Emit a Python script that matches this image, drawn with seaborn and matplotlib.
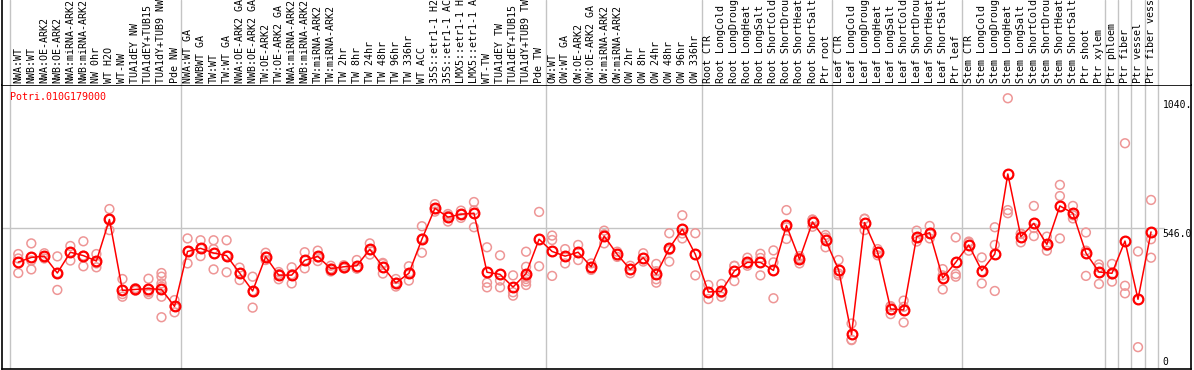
import matplotlib
matplotlib.use("Agg")
import matplotlib.pyplot as plt
import matplotlib.transforms as mtransforms
import seaborn as sns
import pandas as pd
import numpy as np

# Nome do gene e amostras (eixo x)
GENE = "Potri.010G179000"

AMOSTRAS = [
    "NWA:WT", "NWB:WT", "NWA:OE-ARK2", "NWB:OE-ARK2", "NWA:miRNA-ARK2",
    "NWB:miRNA-ARK2", "NW 0hr", "WT H2O", "WT-NW", "TUA1dEY NW",
    "TUA1dEY+TUB15 NW", "TUA1dY+TUB9 NW", "Pde NW",
    "NWA:WT GA", "NWBWT GA", "TW:WT", "TW:WT GA", "NWA:OE-ARK2 GA",
    "NWB:OE-ARK2 GA", "TW:OE-ARK2", "TW:OE-ARK2 GA", "NWA:miRNA-ARK2",
    "NWB:miRNA-ARK2", "TW:miRNA-ARK2", "TW:miRNA-ARK2", "TW 2hr", "TW 8hr",
    "TW 24hr", "TW 48hr", "TW 96hr", "TW 336hr", "WT ACC",
    "35S::etr1-1 H2O", "35S::etr1-1 ACC", "LMX5::etr1-1 H2O",
    "LMX5::etr1-1 ACC", "WT-TW", "TUA1dEY TW", "TUA1dEY+TUB15 TW",
    "TUA1dY+TUB9 TW", "Pde TW",
    "OW:WT", "OW:WT GA", "OW:OE-ARK2", "OW:OE-ARK2 GA", "OW:miRNA-ARK2",
    "OW:miRNA-ARK2", "OW 2hr", "OW 8hr", "OW 24hr", "OW 48hr", "OW 96hr",
    "OW 336hr",
    "Root CTR", "Root LongCold", "Root LongDrought", "Root LongHeat",
    "Root LongSalt", "Root ShortCold", "Root ShortDrought", "Root ShortHeat",
    "Root ShortSalt", "Ptr root",
    "Leaf CTR", "Leaf LongCold", "Leaf LongDrought", "Leaf LongHeat",
    "Leaf LongSalt", "Leaf ShortCold", "Leaf ShortDrought", "Leaf ShortHeat",
    "Leaf ShortSalt", "Ptr leaf",
    "Stem CTR", "Stem LongCold", "Stem LongDrought", "Stem LongHeat",
    "Stem LongSalt", "Stem ShortCold", "Stem ShortDrought", "Stem ShortHeat",
    "Stem ShortSalt", "Ptr shoot", "Ptr xylem",
    "Ptr phloem", "Ptr fiber", "Ptr vessel", "Ptr fiber vessel",
]

# Media por amostra (linha vermelha)
MEDIAS = [
    415, 433, 438, 373, 453, 440, 419, 579, 306, 310,
    313, 310, 245, 456, 468, 450, 440, 373, 304, 436,
    365, 365, 422, 437, 390, 397, 401, 464, 397, 335,
    372, 503, 622, 588, 599, 603, 376, 368, 319, 371,
    503, 456, 438, 453, 397, 515, 445, 387, 432, 368,
    468, 542, 445, 300, 303, 381, 414, 414, 383, 556,
    426, 569, 500, 386, 137, 567, 453, 235, 231, 513,
    528, 354, 414, 481, 382, 446, 754, 513, 564, 483,
    631, 603, 450, 377, 372, 496, 272, 531,
]

# Replicatas (circulos claros)
REPLICATAS = [
    [446, 429, 373], [487, 421, 387], [449, 429, 438], [437, 373, 308],
    [477, 421, 453], [495, 440, 399], [446, 410, 395], [619, 538, 579],
    [350, 292, 282], [315, 305, 310], [351, 300, 292],
    [373, 359, 333, 321, 282, 203], [269, 222, 245],
    [506, 410, 456], [499, 438, 468], [499, 465, 387], [499, 376, 440],
    [394, 346, 373], [359, 240, 304], [451, 423, 436], [369, 349, 377],
    [395, 333, 368], [453, 391, 422], [459, 419, 433], [401, 379, 390],
    [403, 391, 397], [423, 391, 390], [487, 444, 461], [408, 371, 412],
    [350, 321, 335], [399, 344, 373], [553, 451, 505], [638, 609, 619],
    [600, 571, 593], [613, 599, 585], [646, 549, 614], [472, 336, 318],
    [441, 344, 318], [364, 299, 286], [455, 397, 359, 340, 327, 350],
    [608, 399],
    [517, 500, 362], [465, 410], [481, 423], [410, 385], [536, 487, 522],
    [455, 435], [401, 372], [449, 417], [408, 349, 336, 380],
    [526, 417, 461], [595, 506, 525], [526, 364],
    [327, 273], [331, 282, 296], [401, 342, 400], [432, 401, 409],
    [447, 364, 431], [460, 414, 276], [615, 504, 549], [438, 410, 430],
    [577, 551, 579], [519, 472, 509],
    [423, 364, 371], [179, 115, 117], [582, 538, 581], [465, 441, 453],
    [246, 215, 244], [267, 183, 243], [536, 494, 509], [554, 506, 524],
    [388, 310, 364], [510, 369, 359],
    [494, 459, 490], [433, 333, 380], [549, 481, 304], [1045, 615, 603],
    [523, 491, 525], [631, 515, 546], [513, 459, 477], [712, 669, 506],
    [631, 583, 595], [529, 459, 362], [406, 331, 394],
    [408, 340, 368], [872, 324, 295], [456, 88], [654, 503, 432],
]

# Separadores de grupos (entre amostras)
SEPARADORES = [-0.6, 12.5, 40.5, 52.5, 62.5, 72.5, 83.5, 84.5, 85.5, 86.5, 87.5]
ROTULOS_Y = [(1040, "1040."), (546, "546.0"), (0, "0")]

COR_MEDIA = "#FF0000"
COR_REP = "#EE9696"
COR_GRADE = "#C4C4C4"

sns.set_style("white")
plt.rcParams["font.family"] = ["DejaVu Sans Mono"]

df_rep = pd.DataFrame(
    [(i, v) for i, vals in enumerate(REPLICATAS) for v in vals],
    columns=["idx", "valor"],
)
df_med = pd.DataFrame({"idx": np.arange(len(MEDIAS)), "valor": MEDIAS})

W, H = 1194, 370
fig = plt.figure(figsize=(W / 100, H / 100), dpi=100)
fig.patch.set_facecolor("white")
ax = fig.add_axes([2 / W, 1 / H, 1189 / W, 284 / H])
ax_top = fig.add_axes([2 / W, 285 / H, 1189 / W, 85 / H], sharex=ax)

xlim = (-1.25, 90.07)
ax.set_xlim(*xlim)
ax.set_ylim(4, 1096)

for s in SEPARADORES:
    ax.axvline(s, color=COR_GRADE, lw=1, zorder=0)
    ax_top.axvline(s, color=COR_GRADE, lw=1, zorder=0)
ax.plot([xlim[0], 88.0], [546, 546], color=COR_GRADE, lw=1, zorder=0)

sns.scatterplot(data=df_rep, x="idx", y="valor", ax=ax, marker="o",
                s=40, facecolor="none", edgecolor=COR_REP, linewidth=1.1,
                zorder=2, legend=False)
sns.lineplot(data=df_med, x="idx", y="valor", ax=ax, color=COR_MEDIA,
             lw=1.1, marker="o", markersize=7, mfc="none", mec=COR_MEDIA,
             mew=1.6, zorder=3, legend=False)

ax.set_xlabel("")
ax.set_ylabel("")
ax.set_xticks([])
ax.set_yticks([])
for lado in ["left", "bottom", "right", "top"]:
    ax.spines[lado].set_color("black")
    ax.spines[lado].set_linewidth(1.2)

for valor, texto in ROTULOS_Y:
    va = "bottom" if valor == 0 else "top"
    ax.text(87.9, valor + (12 if valor == 0 else -2), texto, fontsize=7,
            ha="left", va=va, color="black")

ax.text(8 / 1189, 1 - 12 / 284, GENE, transform=ax.transAxes, fontsize=7.2,
        color=COR_MEDIA, ha="left", va="center")

# rotulos verticais das amostras
ax_top.set_ylim(0, 1)
ax_top.set_xticks([])
ax_top.set_yticks([])
ax_top.spines["top"].set_visible(False)
ax_top.spines["bottom"].set_visible(False)
for lado in ["left", "right"]:
    ax_top.spines[lado].set_color("black")
    ax_top.spines[lado].set_linewidth(1.2)
trans = mtransforms.blended_transform_factory(ax_top.transData, ax_top.transAxes)
for i, nome in enumerate(AMOSTRAS):
    ax_top.text(i, 2 / 85, nome, transform=trans, rotation=90, fontsize=7.2,
                ha="center", va="bottom", color="black", clip_on=False)

fig.savefig("out.png", dpi=100)
